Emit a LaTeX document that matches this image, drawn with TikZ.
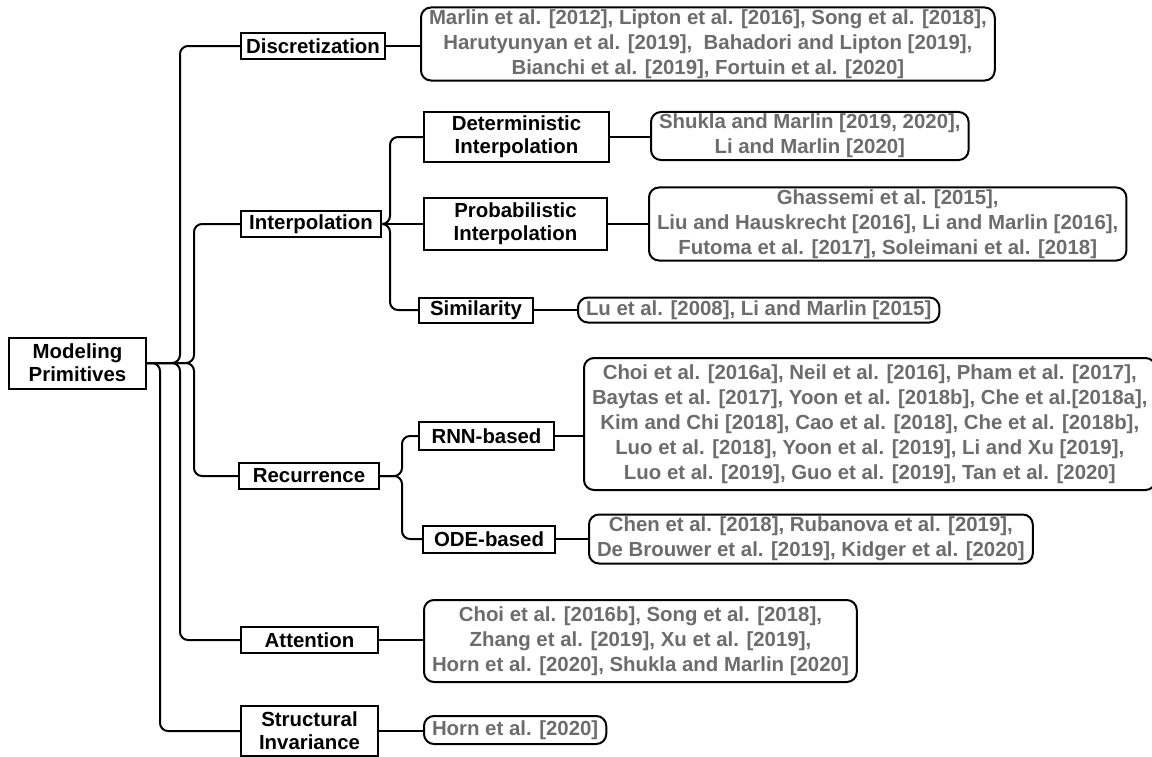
\documentclass[tikz,border=0pt]{standalone}
\usepackage{fontspec}
\setmainfont{Liberation Sans}
\usetikzlibrary{positioning}
\definecolor{refgray}{RGB}{108,108,108}

\begin{document}
\begin{tikzpicture}[x=0.5pt,y=-0.5pt,
    catbox/.style={draw,line width=1pt,anchor=west,align=center,inner xsep=2pt,inner ysep=1pt,
                   font=\fontsize{10.2}{11.5}\selectfont\bfseries},
    refbox/.style={draw,line width=1pt,rounded corners=5pt,anchor=west,align=center,inner xsep=4pt,inner ysep=1pt,
                   text=refgray,font=\fontsize{10.2}{12.5}\selectfont\bfseries},
    branch/.style={line width=1pt,rounded corners=4pt}]
            \useasboundingbox (0,0) rectangle (1152,756);

            % Root
            \node[catbox,minimum width=68.5pt,minimum height=25.5pt] (root) at (8,363) {Modeling\\Primitives};

            % First level
            \node[catbox,minimum width=72pt,minimum height=13pt] (disc) at (240,46) {Discretization};
            \node[catbox,minimum width=70pt,minimum height=13pt] (interp) at (240,224) {Interpolation};
            \node[catbox,minimum width=70pt,minimum height=13pt] (recur) at (238,476) {Recurrence};
            \node[catbox,minimum width=68.5pt,minimum height=13pt] (attn) at (240,640) {Attention};
            \node[catbox,minimum width=68.5pt,minimum height=25pt] (struct) at (240,731) {Structural\\Invariance};

            % Second level
            \node[catbox,minimum width=92.5pt,minimum height=25pt] (det) at (423,137) {Deterministic\\Interpolation};
            \node[catbox,minimum width=91.5pt,minimum height=26pt] (prob) at (423,224) {Probabilistic\\Interpolation};
            \node[catbox,minimum width=57pt,minimum height=12.5pt] (sim) at (418,310) {Similarity};
            \node[catbox,minimum width=67.5pt,minimum height=14pt] (rnn) at (418,436) {RNN-based};
            \node[catbox,minimum width=66pt,minimum height=13.5pt] (ode) at (422,539) {ODE-based};

            % References
            \node[refbox,minimum height=36pt] (discref) at (420,44) {Marlin et al. [2012], Lipton et al. [2016], Song et al. [2018],\\Harutyunyan et al. [2019],~ Bahadori and Lipton [2019],\\Bianchi et al. [2019], Fortuin et al. [2020]};
            \node[refbox,minimum height=24pt] (detref) at (650,136) {Shukla and Marlin [2019, 2020],\\Li and Marlin [2020]};
            \node[refbox,minimum height=36pt] (probref) at (648,224) {Ghassemi et al. [2015],\\Liu and Hauskrecht [2016], Li and Marlin [2016],\\Futoma et al. [2017], Soleimani et al. [2018]};
            \node[refbox,minimum height=12.5pt] (simref) at (577,310) {Lu et al. [2008], Li and Marlin [2015]};
            \node[refbox,minimum height=66pt] (rnnref) at (583,424) {Choi et al. [2016a], Neil et al. [2016], Pham et al. [2017],\\Baytas et al. [2017], Yoon et al. [2018b], Che et al.[2018a],\\Kim and Chi [2018], Cao et al. [2018], Che et al. [2018b],\\Luo et al. [2018], Yoon et al. [2019], Li and Xu [2019],\\Luo et al. [2019], Guo et al. [2019], Tan et al. [2020]};
            \node[refbox,minimum height=24.5pt] (oderef) at (588,539) {Chen et al. [2018], Rubanova et al. [2019],\\De Brouwer et al. [2019], Kidger et al. [2020]};
            \node[refbox,minimum height=41pt] (attnref) at (423,641) {Choi et al. [2016b], Song et al. [2018],\\Zhang et al. [2019], Xu et al. [2019],\\Horn et al. [2020], Shukla and Marlin [2020]};
            \node[refbox,minimum height=14pt] (structref) at (423,730) {Horn et al. [2020]};

            % Root branches
            \draw[branch] (root.east) -- ++(33,0) |- (disc.west);
            \draw[branch] (root.east) -- ++(47,0) |- (interp.west);
            \draw[branch] (root.east) -- ++(47,0) |- (recur.west);
            \draw[branch] (root.east) -- ++(33,0) |- (attn.west);
            \draw[branch] (root.east) -- ++(13,0) |- (struct.west);

            % Interpolation branches
            \draw[branch] (interp.east) -- ++(8,0) |- (det.west);
            \draw[branch] (interp.east) -- (prob.west);
            \draw[branch] (interp.east) -- ++(8,0) |- (sim.west);

            % Recurrence branches
            \draw[branch] (recur.east) -- ++(22,0) |- (rnn.west);
            \draw[branch] (recur.east) -- ++(22,0) |- (ode.west);

            % Links to references
            \draw[branch] (disc.east) -- (disc.east -| discref.west);
            \draw[branch] (det.east) -- (det.east -| detref.west);
            \draw[branch] (prob.east) -- (prob.east -| probref.west);
            \draw[branch] (sim.east) -- (sim.east -| simref.west);
            \draw[branch] (rnn.east) -- (rnn.east -| rnnref.west);
            \draw[branch] (ode.east) -- (ode.east -| oderef.west);
            \draw[branch] (attn.east) -- (attn.east -| attnref.west);
            \draw[branch] (struct.east) -- (struct.east -| structref.west);
\end{tikzpicture}
\end{document}
